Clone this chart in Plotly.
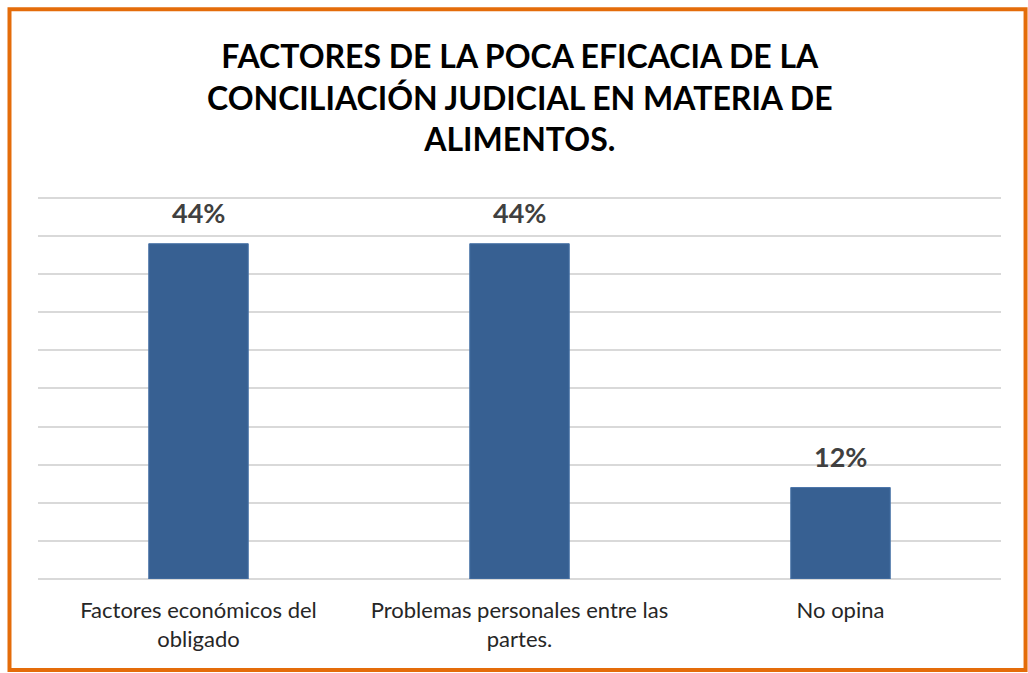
import plotly.graph_objects as go

# Data
categories = ["Factores económicos del<br>obligado",
              "Problemas personales entre las<br>partes.",
              "No opina"]
values = [0.44, 0.44, 0.12]
value_labels = ["44%", "44%", "12%"]

title_text = ("FACTORES DE LA POCA EFICACIA DE LA<br>"
              "CONCILIACIÓN JUDICIAL EN MATERIA DE<br>"
              "ALIMENTOS.")

FONT = "Lato"
BAR_COLOR = "#376092"
GRID_COLOR = "#D9D9D9"
BORDER_COLOR = "#E46C0A"

fig = go.Figure()

fig.add_trace(go.Bar(
    x=categories,
    y=values,
    marker=dict(color=BAR_COLOR, line=dict(color="#4A74A8", width=1)),
    hoverinfo="skip",
))

# Value labels above bars
for cat, val, lab in zip(categories, values, value_labels):
    fig.add_annotation(
        x=cat, y=val, text=f"<b>{lab}</b>",
        showarrow=False, yanchor="bottom", yshift=13,
        font=dict(family=FONT, size=27, color="#404040"),
    )

# Title as a centred annotation above the plot area
fig.add_annotation(
    xref="paper", yref="paper", x=0.5, y=1.259,
    xanchor="center", yanchor="middle",
    text=f"<b>{title_text}</b>", showarrow=False,
    font=dict(family=FONT, size=32, color="#000000"),
)

# Orange frame around the whole picture
fig.add_shape(
    type="rect", xref="paper", yref="paper",
    x0=-0.0296, x1=1.0255, y0=-0.2376, y1=1.4875,
    line=dict(color=BORDER_COLOR, width=4),
    fillcolor="rgba(0,0,0,0)", layer="above",
)

fig.update_layout(
    width=1028,
    height=673,
    margin=dict(l=38, r=27, t=196, b=94),
    paper_bgcolor="white",
    plot_bgcolor="white",
    showlegend=False,
    bargap=0.69,
    xaxis=dict(
        showgrid=False,
        showline=False,
        ticks="",
        ticklabelstandoff=16,
        tickfont=dict(family=FONT, size=22, color="#262626"),
    ),
    yaxis=dict(
        range=[0, 0.5026],
        dtick=0.05,
        showticklabels=False,
        showgrid=True,
        gridcolor=GRID_COLOR,
        gridwidth=2,
        zeroline=True,
        zerolinecolor=GRID_COLOR,
        zerolinewidth=2,
        fixedrange=True,
    ),
)

# drop the default page margin so the figure fills the window
fig.write_html("out.html", config={"displayModeBar": False},
               post_script="document.body.style.margin='0';")
